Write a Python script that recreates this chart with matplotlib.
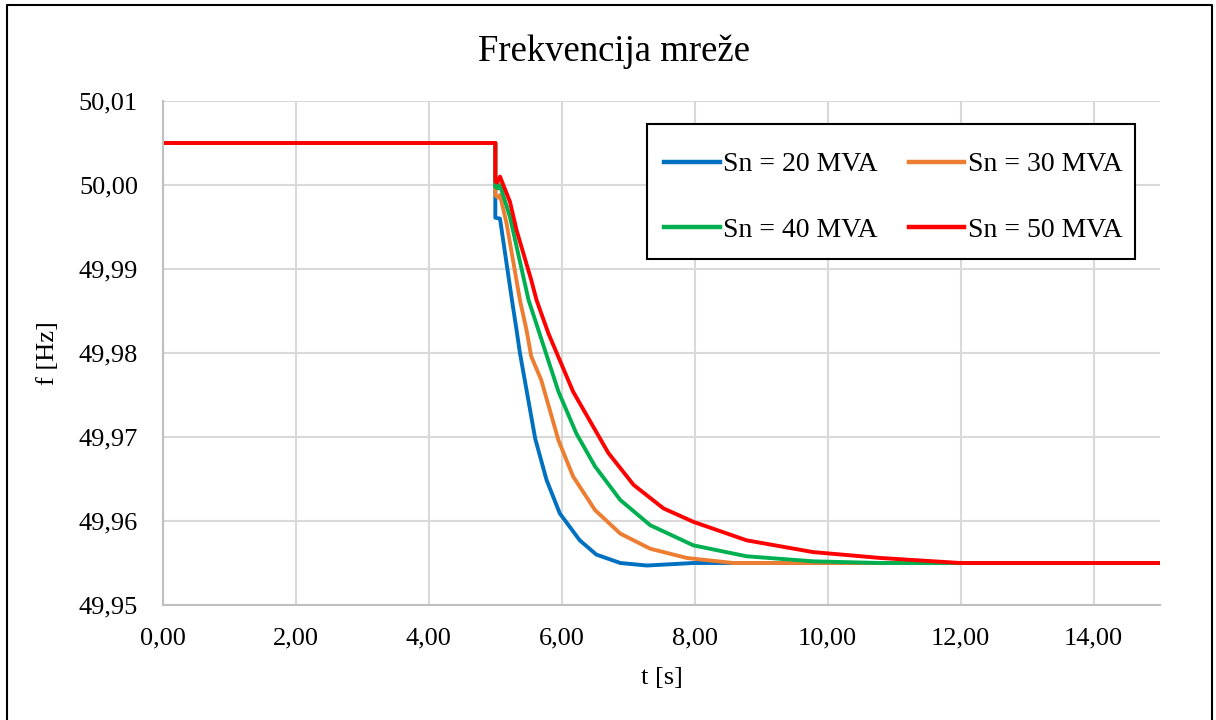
import matplotlib

matplotlib.use("Agg")
import matplotlib.pyplot as plt
from matplotlib.lines import Line2D
from matplotlib.patches import Rectangle
from matplotlib.ticker import FuncFormatter, MultipleLocator

plt.rcParams["font.family"] = ["Liberation Serif", "DejaVu Serif"]

# values (t in s, f in Hz)
t_20 = [0.0, 5.0, 5.0, 5.07, 5.25, 5.32, 5.37, 5.60, 5.77, 5.97, 6.27, 6.52,
        6.88, 7.28, 7.98, 9.0, 15.0]
f_20 = [50.005, 50.005, 49.9961, 49.9960, 49.9863, 49.9827, 49.9800, 49.9698,
        49.9649, 49.9609, 49.9577, 49.9560, 49.9550, 49.9547, 49.9550, 49.9550,
        49.9550]

t_30 = [0.0, 5.0, 5.0, 5.04, 5.07, 5.17, 5.37, 5.47, 5.54, 5.69, 5.95, 6.17,
        6.50, 6.88, 7.33, 7.88, 8.58, 9.5, 15.0]
f_30 = [50.005, 50.005, 49.9988, 49.9985, 49.9988, 49.9954, 49.9863, 49.9827,
        49.9796, 49.9768, 49.9696, 49.9653, 49.9613, 49.9585, 49.9567, 49.9556,
        49.9550, 49.9550, 49.9550]

t_40 = [0.0, 5.0, 5.0, 5.04, 5.07, 5.22, 5.50, 5.60, 5.95, 6.22, 6.50, 6.88,
        7.33, 7.98, 8.78, 9.78, 10.79, 15.0]
f_40 = [50.005, 50.005, 49.9998, 49.9996, 50.0000, 49.9962, 49.9863, 49.9839,
        49.9754, 49.9704, 49.9665, 49.9625, 49.9595, 49.9571, 49.9558, 49.9552,
        49.9550, 49.9550]

t_50 = [0.0, 5.0, 5.0, 5.03, 5.07, 5.22, 5.32, 5.54, 5.62, 5.80, 6.17, 6.70,
        7.08, 7.53, 7.98, 8.78, 9.78, 10.79, 12.0, 15.0]
f_50 = [50.005, 50.005, 50.0004, 50.0003, 50.0010, 49.9980, 49.9946, 49.9887,
        49.9863, 49.9823, 49.9754, 49.9681, 49.9643, 49.9615, 49.9599, 49.9577,
        49.9563, 49.9556, 49.9550, 49.9550]

labels = ["Sn = 20 MVA", "Sn = 30 MVA", "Sn = 40 MVA", "Sn = 50 MVA"]
colors = ["#0070C0", "#ED7D31", "#00B050", "#FF0000"]

W, H = 1216, 720
fig = plt.figure(figsize=(W / 100, H / 100), dpi=100)
ax = fig.add_axes([163 / W, 1 - 605 / H, 997 / W, 504 / H])

series = [(t_20, f_20), (t_30, f_30), (t_40, f_40), (t_50, f_50)]
lines = []
for (t, f), lab, col in zip(series, labels, colors):
    (ln,) = ax.plot(t, f, color=col, lw=2.8, label=lab, solid_joinstyle="round")
    lines.append(ln)

ax.set_xlim(0, 15)
ax.set_ylim(49.95, 50.01)
ax.xaxis.set_major_locator(MultipleLocator(2))
ax.yaxis.set_major_locator(MultipleLocator(0.01))
comma = FuncFormatter(lambda v, p: f"{v:.2f}".replace(".", ","))
ax.xaxis.set_major_formatter(comma)
ax.yaxis.set_major_formatter(comma)
ax.tick_params(length=0, labelsize=19)
ax.tick_params(axis="x", pad=16)
ax.tick_params(axis="y", pad=18)
ax.grid(color="#d9d9d9", lw=1.5)
ax.set_axisbelow(True)
for s in ["top", "right"]:
    ax.spines[s].set_visible(False)
for s in ["left", "bottom"]:
    ax.spines[s].set_color("#bfbfbf")
    ax.spines[s].set_linewidth(1.5)

ax.set_xlabel("t [s]", fontsize=19, labelpad=13)
ax.set_ylabel("f [Hz]", fontsize=19, labelpad=14)
fig.text(0.505, 1 - 52 / H, "Frekvencija mreže", ha="center", va="center",
         fontsize=26.5)

# legend box (white, black frame) drawn separately so the padding can differ
ax.add_patch(Rectangle((647 / W, 1 - 259 / H), 488 / W, 135 / H,
                       transform=fig.transFigure, facecolor="white",
                       edgecolor="black", lw=1.5, zorder=4, clip_on=False))

# row-wise order: 20, 30 / 40, 50
order = [0, 2, 1, 3]
leg = ax.legend([lines[i] for i in order], [labels[i] for i in order], ncol=2,
                loc="upper left", bbox_to_anchor=(664 / W, 1 - 152 / H),
                bbox_transform=fig.transFigure, fontsize=20, frameon=False,
                handlelength=2.0, labelspacing=1.44, columnspacing=1.12,
                handletextpad=0.12, borderpad=0, borderaxespad=0)
leg.set_zorder(5)
for h in leg.get_lines():
    h.set_linewidth(3.2)

# chart border
fig.add_artist(Line2D([7 / W, 7 / W, 1212 / W, 1212 / W],
                      [0, 1 - 5 / H, 1 - 5 / H, 0],
                      transform=fig.transFigure, color="black", lw=1.5))

fig.savefig("out.png", dpi=100)
